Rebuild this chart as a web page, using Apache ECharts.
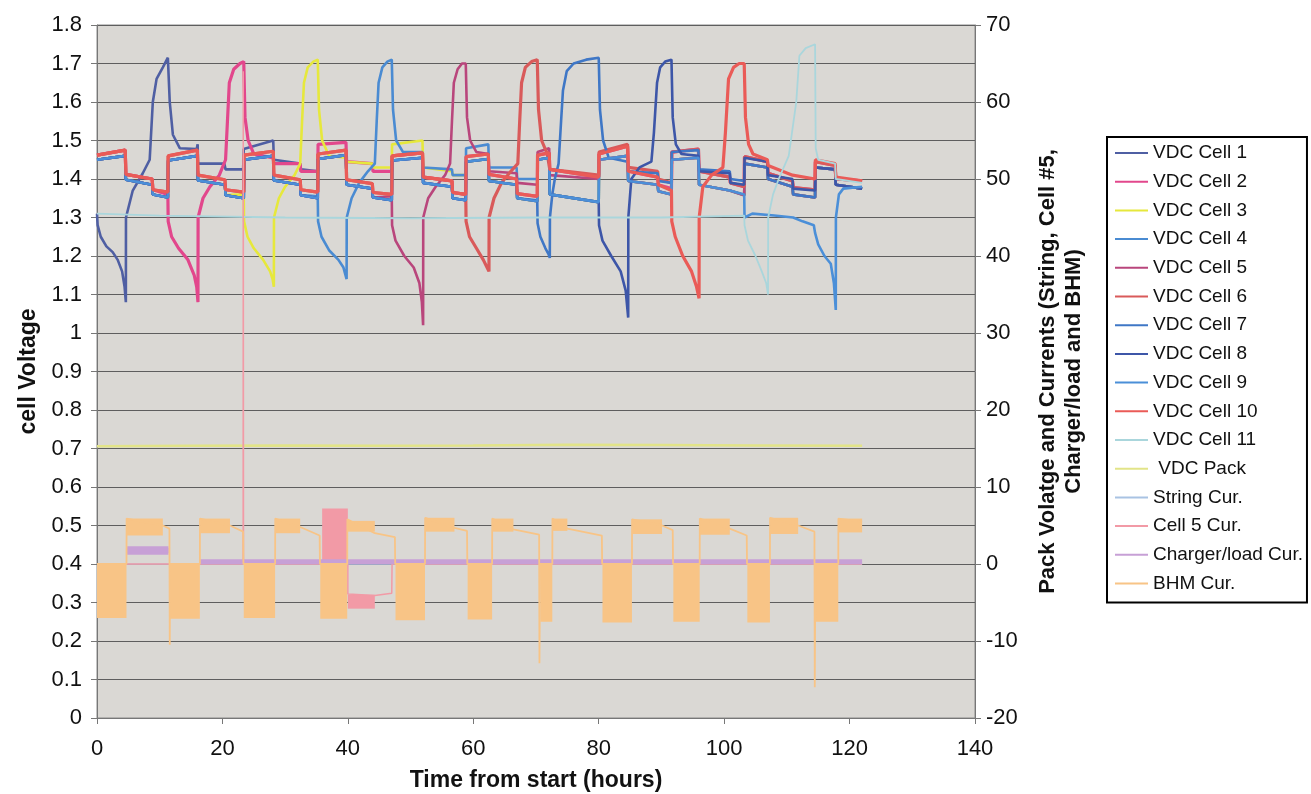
<!DOCTYPE html>
<html style="height: 100%">
<head>
  <meta charset="utf-8">
  <title>Cell voltage test</title>
</head>
<body style="height: 100%; margin: 0; background: #fff">
<div id="container" style="width: 1311px; height: 794px;"></div>
<script type="text/javascript" src="https://cdn.jsdelivr.net/npm/echarts@6/dist/echarts.min.js"></script>
<script type="text/javascript">
  // ---- data (hours, volts / amps) ----
  // edges of the band formed by the cells that are not under test
  var clusterHi = [
    [0, 1.462], [4.5, 1.475], [4.6, 1.412], [8.8, 1.40], [8.9, 1.372], [11.3, 1.366],
    [11.35, 1.46], [16.0, 1.475], [16.1, 1.41], [20.4, 1.398], [20.5, 1.372], [23.4, 1.366],
    [23.45, 1.462], [28.1, 1.472], [28.2, 1.41], [32.4, 1.398], [32.5, 1.372], [35.2, 1.366],
    [35.25, 1.465], [39.7, 1.475], [39.8, 1.398], [43.9, 1.388], [44.0, 1.365], [47.0, 1.36],
    [47.05, 1.46], [51.9, 1.468], [52.0, 1.405], [56.6, 1.395], [56.7, 1.365], [58.8, 1.36],
    [58.85, 1.458], [62.4, 1.465], [62.5, 1.412], [66.9, 1.40], [67.0, 1.362], [70.2, 1.355],
    [70.25, 1.462], [72.1, 1.468], [72.2, 1.425], [80.0, 1.405],
    [80.05, 1.465], [84.6, 1.485], [84.7, 1.42], [89.4, 1.405], [89.5, 1.385], [91.6, 1.375],
    [91.65, 1.47], [95.9, 1.478], [96.0, 1.42], [100.9, 1.405], [101.0, 1.39], [103.2, 1.38],
    [103.25, 1.458], [106.9, 1.445], [107.0, 1.415], [110.9, 1.395], [111.0, 1.378], [114.5, 1.372],
    [114.55, 1.445], [117.7, 1.435], [117.8, 1.40], [122, 1.395]
  ];
  var clusterLo = [
    [0, 1.45], [4.5, 1.46], [4.6, 1.398], [8.8, 1.385], [8.9, 1.36], [11.3, 1.352],
    [11.35, 1.448], [16.0, 1.46], [16.1, 1.396], [20.4, 1.385], [20.5, 1.358], [23.4, 1.35],
    [23.45, 1.45], [28.1, 1.46], [28.2, 1.396], [32.4, 1.385], [32.5, 1.358], [35.2, 1.35],
    [35.25, 1.452], [39.7, 1.462], [39.8, 1.385], [43.9, 1.375], [44.0, 1.352], [47.0, 1.345],
    [47.05, 1.448], [51.9, 1.455], [52.0, 1.39], [56.6, 1.38], [56.7, 1.35], [58.8, 1.345],
    [58.85, 1.445], [62.4, 1.452], [62.5, 1.395], [66.9, 1.385], [67.0, 1.35], [70.2, 1.342],
    [70.25, 1.45], [72.1, 1.455], [72.2, 1.36], [80.0, 1.34],
    [80.05, 1.45], [84.6, 1.46], [84.7, 1.395], [89.4, 1.385], [89.5, 1.368], [91.6, 1.36],
    [91.65, 1.45], [95.9, 1.455], [96.0, 1.385], [100.9, 1.37], [101.0, 1.365], [103.2, 1.358],
    [103.25, 1.44], [106.9, 1.43], [107.0, 1.40], [110.9, 1.38], [111.0, 1.36], [114.5, 1.352],
    [114.55, 1.43], [117.7, 1.425], [117.8, 1.385], [122, 1.375]
  ];

  // each cell's own test cycle (discharge, charge, overcharge, recovery)
  var cell1Own = [
    [0, 1.31], [0.1, 1.28], [0.6, 1.25], [1.5, 1.225], [2.5, 1.21], [3.3, 1.19], [4.0, 1.16], [4.4, 1.12], [4.6, 1.08],
    [4.62, 1.30], [5.7, 1.37], [7.3, 1.415], [8.4, 1.45], [8.9, 1.60], [9.5, 1.66], [10.5, 1.69], [11.3, 1.715],
    [11.6, 1.60], [12.1, 1.515], [13.2, 1.48], [15.9, 1.478], [16.05, 1.49], [16.1, 1.44], [20.3, 1.44], [20.5, 1.425],
    [23.3, 1.425], [23.4, 1.478], [28.1, 1.50], [28.2, 1.45], [32.4, 1.44], [32.5, 1.425], [35.2, 1.42]
  ];
  var cell2Own = [
    [11.3, 1.36], [11.35, 1.29], [11.9, 1.25], [13, 1.22], [14.5, 1.19], [15.5, 1.15], [15.9, 1.12], [16.1, 1.08],
    [16.12, 1.30], [16.9, 1.35], [18, 1.38], [19.5, 1.41], [20.5, 1.45], [20.8, 1.55], [21.1, 1.65], [21.8, 1.685], [22.8, 1.70], [23.4, 1.705],
    [23.6, 1.56], [24.1, 1.50], [25, 1.465], [28.1, 1.455], [28.2, 1.44], [32.4, 1.44], [32.5, 1.42], [35.2, 1.42],
    [35.25, 1.49], [39.7, 1.495], [39.8, 1.445], [43.9, 1.44], [44, 1.42], [47, 1.42]
  ];
  var cell3Own = [
    [23.4, 1.36], [23.45, 1.29], [24, 1.25], [25, 1.22], [26.5, 1.19], [27.6, 1.16], [28, 1.14], [28.2, 1.12],
    [28.22, 1.30], [29, 1.35], [30, 1.38], [31.5, 1.41], [32.4, 1.44], [32.7, 1.55], [33.0, 1.65], [33.6, 1.69], [34.5, 1.705], [35.2, 1.71],
    [35.4, 1.58], [35.9, 1.50], [37, 1.46], [39.7, 1.455], [39.8, 1.445], [43.9, 1.44], [44, 1.43], [47, 1.43],
    [47.05, 1.49], [51.9, 1.50], [52, 1.43], [56.6, 1.42], [56.7, 1.41], [58.8, 1.41]
  ];
  var cell4Own = [
    [35.2, 1.355], [35.25, 1.29], [35.8, 1.25], [37, 1.215], [38.5, 1.19], [39.3, 1.17], [39.8, 1.14],
    [39.82, 1.30], [40.6, 1.35], [41.8, 1.39], [43.2, 1.42], [44.3, 1.44], [44.6, 1.55], [44.9, 1.65], [45.5, 1.69], [46.3, 1.705], [47, 1.71],
    [47.2, 1.58], [47.7, 1.50], [48.8, 1.47], [51.9, 1.47], [52, 1.43], [56.6, 1.425], [56.7, 1.41], [58.8, 1.41],
    [58.85, 1.48], [62.4, 1.49], [62.5, 1.43], [66.9, 1.43], [67, 1.40], [70.2, 1.40]
  ];
  var cell5Own = [
    [47, 1.355], [47.05, 1.28], [47.6, 1.24], [49, 1.20], [50.5, 1.17], [51.4, 1.13], [51.8, 1.08], [52, 1.02],
    [52.02, 1.30], [52.8, 1.35], [54, 1.38], [55.5, 1.41], [56.3, 1.44], [56.6, 1.55], [56.9, 1.65], [57.5, 1.685], [58.2, 1.70], [58.8, 1.70],
    [59, 1.56], [59.5, 1.50], [60.5, 1.47], [62.4, 1.465], [62.5, 1.42], [66.9, 1.415], [67, 1.39], [70.2, 1.385],
    [70.25, 1.47], [72.1, 1.48], [72.2, 1.41], [80, 1.40]
  ];
  var cell6Own = [
    [58.8, 1.36], [58.85, 1.29], [59.4, 1.25], [60.5, 1.22], [61.6, 1.19], [62.2, 1.17], [62.5, 1.16],
    [62.52, 1.30], [63.3, 1.35], [64.5, 1.39], [66, 1.42], [67.1, 1.44], [67.4, 1.55], [67.7, 1.65], [68.3, 1.69], [69.3, 1.705], [70.2, 1.71],
    [70.4, 1.58], [70.9, 1.50], [71.8, 1.465], [72.1, 1.46], [72.2, 1.425], [80, 1.41],
    [80.05, 1.47], [84.6, 1.49], [84.7, 1.43], [89.4, 1.42], [89.5, 1.40], [91.6, 1.39]
  ];
  var cell7Own = [
    [70.2, 1.345], [70.25, 1.285], [70.7, 1.25], [71.5, 1.22], [72.0, 1.205], [72.2, 1.195],
    [72.22, 1.30], [72.6, 1.36], [73.0, 1.40], [73.6, 1.44], [74.0, 1.55], [74.3, 1.63], [74.9, 1.68], [76, 1.70], [78, 1.71], [80, 1.715],
    [80.2, 1.58], [80.7, 1.50], [81.6, 1.455], [84.6, 1.445], [84.7, 1.42], [89.4, 1.415], [89.5, 1.395], [91.6, 1.39],
    [91.65, 1.47], [95.9, 1.475], [96, 1.425], [100.9, 1.42], [101, 1.40], [103.2, 1.395]
  ];
  var cell8Own = [
    [80, 1.34], [80.05, 1.28], [80.6, 1.24], [82, 1.20], [83.5, 1.16], [84.3, 1.11], [84.7, 1.04],
    [84.72, 1.30], [85.2, 1.40], [86.5, 1.43], [88.4, 1.445], [88.8, 1.52], [89.3, 1.65], [89.8, 1.69], [90.6, 1.705], [91.6, 1.71],
    [91.8, 1.56], [92.3, 1.49], [93.2, 1.465], [95.9, 1.46], [96, 1.42], [100.9, 1.415], [101, 1.39], [103.2, 1.385],
    [103.25, 1.455], [106.9, 1.445], [107, 1.41], [110.9, 1.40], [111, 1.375], [114.5, 1.37]
  ];
  var cell9Own = [
    [103.2, 1.36], [103.25, 1.30], [104.5, 1.31], [108, 1.305], [111, 1.30], [112.5, 1.29], [114.3, 1.28],
    [114.5, 1.26], [115, 1.23], [116, 1.20], [117, 1.18], [117.5, 1.13], [117.8, 1.06],
    [117.82, 1.30], [118.3, 1.36], [119, 1.375], [122, 1.38]
  ];
  var cell10Own = [
    [91.6, 1.37], [91.65, 1.29], [92.2, 1.25], [93.4, 1.20], [94.8, 1.16], [95.6, 1.12], [96, 1.09],
    [96.02, 1.30], [96.6, 1.38], [98, 1.41], [99.8, 1.43], [100.2, 1.52], [100.7, 1.66], [101.5, 1.69], [102.4, 1.70], [103.2, 1.70],
    [103.4, 1.56], [103.9, 1.49], [104.6, 1.465], [106.9, 1.45], [107, 1.435], [110.9, 1.41], [111, 1.405], [114.5, 1.40],
    [114.55, 1.45], [117.7, 1.44], [117.8, 1.405], [122, 1.395]
  ];
  var cell11Own = [
    [0, 1.31], [10, 1.305], [30, 1.30], [50, 1.298], [70, 1.30], [90, 1.30], [103.2, 1.305],
    [103.25, 1.28], [103.8, 1.24], [105, 1.20], [106, 1.16], [106.7, 1.13], [107, 1.10],
    [107.02, 1.30], [107.8, 1.36], [108.7, 1.40], [110.3, 1.46], [111.5, 1.60], [112, 1.72], [113, 1.74], [114.5, 1.75],
    [114.6, 1.48], [115, 1.45], [117.7, 1.44], [117.8, 1.40], [122, 1.39]
  ];

  // right axis series
  var packVolts = [[0, 15.3], [15, 15.35], [30, 15.4], [45, 15.35], [60, 15.4], [75, 15.5], [90, 15.45], [105, 15.4], [122, 15.35]];
  var stringCur = [[0, 0], [122, 0]];
  var cell5CurLine = [[0, 0], [23.3, 0], [23.32, 64], [23.36, 0], [35.9, 0], [40, 0], [40, -3.9], [44.3, -4.1], [47, -3.8], [47.05, 0], [122, 0]];
  var cell5CurBands = [[35.9, 40.0, 0, 7.2], [40.0, 44.3, -5.8, -4.0]];
  var chargerLine = [[4.8, 1.75], [11.4, 1.75], [11.45, '-'], [16.45, 0.3], [122, 0.3]];
  var chargerBands = [[4.8, 11.4, 1.2, 2.3]];
  var bhmLine = [
    [0, 0], [4.7, 0], [4.72, 5.9], [10.5, 5.0], [11.55, 4.6], [11.6, -10.5], [11.65, 0], [16.4, 0],
    [16.42, 5.9], [21.2, 5.0], [23.3, 4.2], [23.35, 0], [28.4, 0],
    [28.42, 5.9], [32.4, 4.8], [35.5, 3.7], [35.55, 0], [39.9, 0],
    [39.92, 5.8], [44.3, 4.0], [47.5, 3.5], [47.55, 0], [52.3, 0],
    [52.32, 6.0], [57.0, 4.7], [59.0, 4.3], [59.05, 0], [63.0, 0],
    [63.02, 5.9], [66.4, 4.5], [70.5, 3.8], [70.55, -12.9], [70.65, 0], [72.6, 0],
    [72.62, 5.9], [75.0, 4.6], [80.5, 3.7], [80.55, 0], [85.3, 0],
    [85.32, 5.8], [90.1, 5.0], [91.8, 4.4], [91.85, 0], [96.1, 0],
    [96.12, 5.9], [100.9, 4.6], [103.6, 3.7], [103.65, 0], [107.3, 0],
    [107.32, 6.0], [111.8, 5.0], [114.4, 4.2], [114.45, -16], [114.55, 0], [118.2, 0],
    [118.22, 5.9], [122, 5.5]
  ];
  // [from, to, low, high] of the fast oscillating BHM current blocks
  var bhmBands = [
    [0, 4.7, -7.0, 0], [11.65, 16.4, -7.1, 0], [23.4, 28.4, -7.0, 0], [35.6, 39.9, -7.1, 0],
    [47.6, 52.3, -7.3, 0], [59.1, 63.0, -7.2, 0], [70.7, 72.6, -7.5, 0], [80.6, 85.3, -7.6, 0],
    [91.9, 96.1, -7.5, 0], [103.7, 107.3, -7.6, 0], [114.6, 118.2, -7.5, 0],
    [4.75, 10.5, 3.7, 5.9], [16.45, 21.2, 4.0, 5.9], [28.45, 32.4, 4.0, 5.9], [39.95, 44.3, 4.2, 5.6],
    [52.35, 57.0, 4.2, 6.0], [63.05, 66.4, 4.2, 5.9], [72.65, 75.0, 4.3, 5.9], [85.35, 90.1, 3.9, 5.8],
    [96.15, 100.9, 3.8, 5.9], [107.35, 111.8, 3.9, 6.0], [118.25, 122, 4.1, 5.9]
  ];

  var cellNames = ['VDC Cell 1', 'VDC Cell 2', 'VDC Cell 3', 'VDC Cell 4', 'VDC Cell 5', 'VDC Cell 6',
                   'VDC Cell 7', 'VDC Cell 8', 'VDC Cell 9', 'VDC Cell 10', 'VDC Cell 11'];
  var cellColors = ['#4f5fa3', '#e2478c', '#e6e83c', '#4a8bd2', '#b9467c', '#d95a5a',
                    '#3f77c6', '#3d56a8', '#4b8fd8', '#ea5b57', '#aad6dc'];
  var cellOwn = [cell1Own, cell2Own, cell3Own, cell4Own, cell5Own, cell6Own,
                 cell7Own, cell8Own, cell9Own, cell10Own, cell11Own];
  var cellEdge = [clusterLo, clusterHi, clusterLo, clusterLo, clusterLo, clusterHi,
                  clusterLo, clusterLo, clusterLo, clusterHi, clusterHi];

  // ---- build ----
  function withCluster(own, edge) {
    var t0 = own[0][0], t1 = own[own.length - 1][0];
    return edge.filter(function (p) { return p[0] < t0; })
      .concat(own, edge.filter(function (p) { return p[0] > t1; }));
  }

  function bandSeries(name, color, data) {
    return {
      name: name, type: 'custom', yAxisIndex: 1, data: data, z: 1, silent: true,
      encode: { x: [0, 1], y: [2, 3] },
      itemStyle: { color: color },
      renderItem: function (params, api) {
        var a = api.coord([api.value(0), api.value(3)]);
        var b = api.coord([api.value(1), api.value(2)]);
        return {
          type: 'rect',
          shape: { x: a[0], y: a[1], width: b[0] - a[0], height: b[1] - a[1] },
          style: { fill: color }
        };
      }
    };
  }

  function lineSeries(name, color, data, axis, width) {
    return {
      name: name, type: 'line', yAxisIndex: axis, data: data,
      showSymbol: false, symbol: 'none', silent: true, z: 2,
      itemStyle: { color: color },
      lineStyle: { color: color, width: width }
    };
  }

  var series = [];
  for (var i = 0; i < cellNames.length; i++) {
    var w = (cellEdge[i] === clusterHi) ? 3.2 : 2.6;
    if (i === 10) w = 1.8;
    series.push(lineSeries(cellNames[i], cellColors[i], withCluster(cellOwn[i], cellEdge[i]), 0, w));
  }
  series.push(lineSeries(' VDC Pack', '#e2e488', packVolts, 1, 2.5));
  series.push(lineSeries('String Cur.', '#a9c3e3', stringCur, 1, 1.5));
  series.push(lineSeries('Cell 5 Cur.', '#f29aa6', cell5CurLine, 1, 1.5));
  series.push(lineSeries('Charger/load Cur.', '#c7a0d6', chargerLine, 1, 5));
  series.push(lineSeries('BHM Cur.', '#f8c486', bhmLine, 1, 1.8));
  series.push(bandSeries('Cell 5 Cur.', '#f29aa6', cell5CurBands));
  series.push(bandSeries('Charger/load Cur.', '#c7a0d6', chargerBands));
  series.push(bandSeries('BHM Cur.', '#f8c486', bhmBands));

  var font = 'Liberation Sans';
  var dom = document.getElementById('container');
  var myChart = echarts.init(dom, null, { renderer: 'canvas' });

  var option = {
    backgroundColor: '#ffffff',
    animation: false,
    grid: {
      left: 97, right: 336, top: 25, bottom: 76,
      outerBoundsMode: 'none', containLabel: false,
      show: true, backgroundColor: '#dad8d4', borderColor: '#8a8a8a', borderWidth: 1
    },
    legend: {
      orient: 'vertical', left: 1107, top: 137,
      data: cellNames.concat([' VDC Pack', 'String Cur.', 'Cell 5 Cur.', 'Charger/load Cur.', 'BHM Cur.']),
      icon: 'rect', itemWidth: 33, itemHeight: 2, itemGap: 8.7,
      padding: [6, 4, 9, 8],
      borderColor: '#000', borderWidth: 2, backgroundColor: '#fff',
      selectedMode: false,
      textStyle: { fontFamily: font, fontSize: 19, color: '#111', lineHeight: 20 }
    },
    xAxis: {
      type: 'value', min: 0, max: 140, interval: 20,
      name: 'Time from start (hours)', nameLocation: 'middle', nameGap: 51,
      nameTextStyle: { fontFamily: font, fontSize: 23, fontWeight: 'bold', color: '#111' },
      axisLine: { show: true, onZero: false, lineStyle: { color: '#777', width: 1 } },
      axisTick: { show: true, length: 6, lineStyle: { color: '#777' } },
      axisLabel: { fontFamily: font, fontSize: 22, color: '#111', margin: 20 },
      splitLine: { show: false }
    },
    yAxis: [
      {
        type: 'value', min: 0, max: 1.8, interval: 0.1, position: 'left',
        name: 'cell Voltage', nameLocation: 'middle', nameGap: 56,
        nameTextStyle: { fontFamily: font, fontSize: 23, fontWeight: 'bold', color: '#111' },
        axisLine: { show: true, lineStyle: { color: '#777', width: 1 } },
        axisTick: { show: true, length: 6, lineStyle: { color: '#777' } },
        axisLabel: {
          fontFamily: font, fontSize: 22, color: '#111', margin: 15,
          formatter: function (v) { return String(Math.round(v * 10) / 10); }
        },
        splitLine: { show: true, lineStyle: { color: '#5e5e5e', width: 1 } }
      },
      {
        type: 'value', min: -20, max: 70, interval: 10, position: 'right',
        name: 'Pack Volatge and Currents (String, Cell #5,\nCharger/load and BHM)',
        nameLocation: 'middle', nameGap: 60,
        nameTextStyle: { fontFamily: font, fontSize: 22, fontWeight: 'bold', color: '#111', lineHeight: 26, align: 'center' },
        axisLine: { show: true, lineStyle: { color: '#777', width: 1 } },
        axisTick: { show: true, length: 6, lineStyle: { color: '#777' } },
        axisLabel: { fontFamily: font, fontSize: 22, color: '#111', margin: 11 },
        splitLine: { show: false }
      }
    ],
    series: series
  };

  if (option && typeof option === 'object') {
    myChart.setOption(option, true);
  }
</script>
</body>
</html>
